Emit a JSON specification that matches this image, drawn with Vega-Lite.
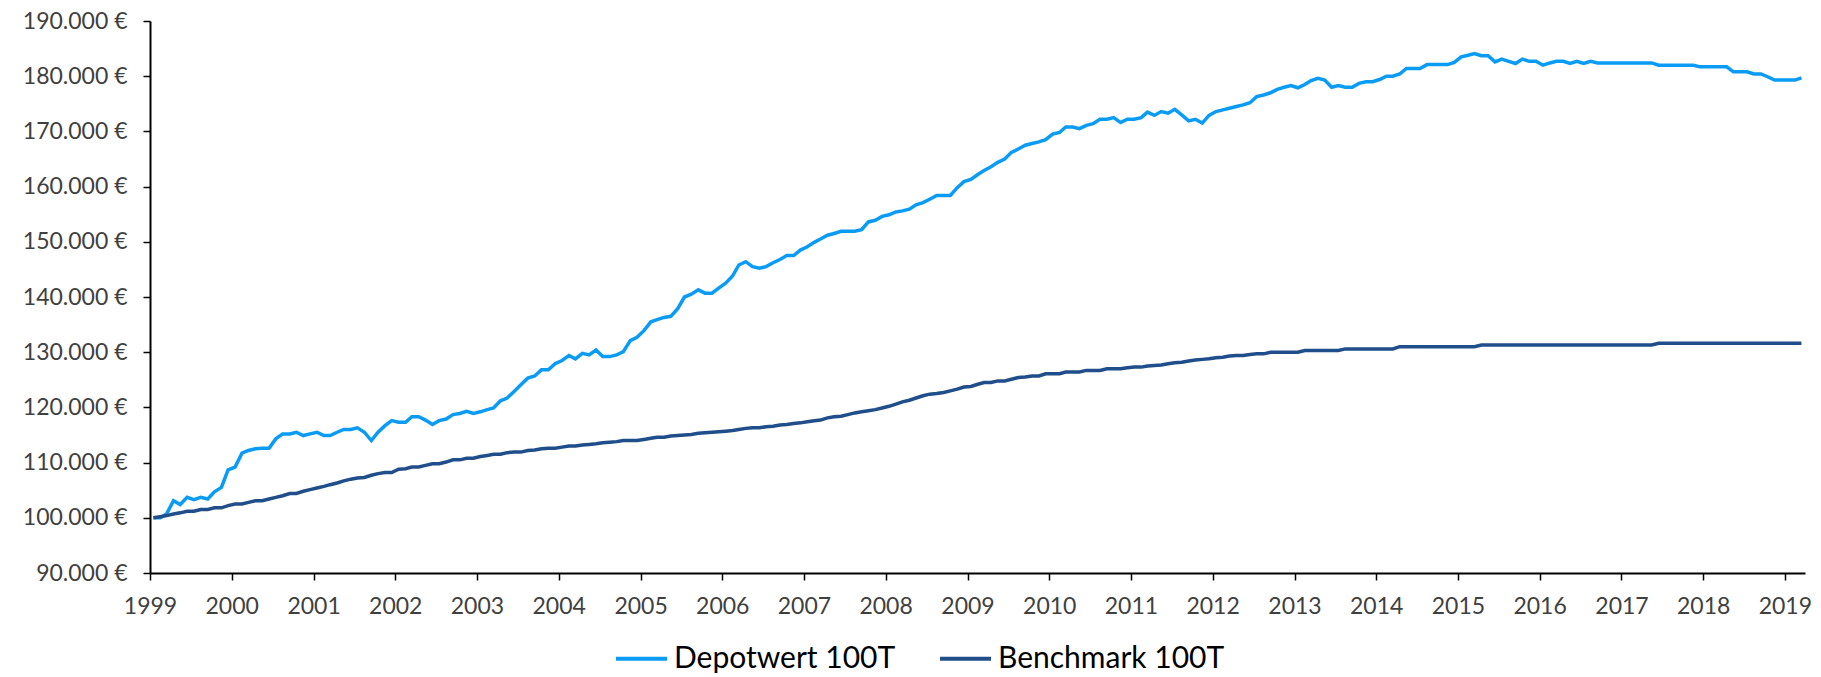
{
  "$schema": "https://vega.github.io/schema/vega-lite/v6.json",
  "width": 1655,
  "height": 552,
  "autosize": {"type": "none"},
  "padding": {"left": 150, "top": 21, "right": 16, "bottom": 104},
  "background": "white",
  "config": {"view": {"stroke": null}, "font": "Lato"},
  "data": {"values": [
{"date":"1999-01-16","Depotwert 100T":100000,"Benchmark 100T":100000},
{"date":"1999-02-16","Depotwert 100T":100000,"Benchmark 100T":100200},
{"date":"1999-03-16","Depotwert 100T":100700,"Benchmark 100T":100400},
{"date":"1999-04-16","Depotwert 100T":103100,"Benchmark 100T":100700},
{"date":"1999-05-16","Depotwert 100T":102400,"Benchmark 100T":100900},
{"date":"1999-06-16","Depotwert 100T":103700,"Benchmark 100T":101200},
{"date":"1999-07-16","Depotwert 100T":103300,"Benchmark 100T":101200},
{"date":"1999-08-16","Depotwert 100T":103700,"Benchmark 100T":101500},
{"date":"1999-09-16","Depotwert 100T":103400,"Benchmark 100T":101500},
{"date":"1999-10-16","Depotwert 100T":104700,"Benchmark 100T":101800},
{"date":"1999-11-16","Depotwert 100T":105500,"Benchmark 100T":101800},
{"date":"1999-12-16","Depotwert 100T":108700,"Benchmark 100T":102200},
{"date":"2000-01-16","Depotwert 100T":109200,"Benchmark 100T":102500},
{"date":"2000-02-16","Depotwert 100T":111700,"Benchmark 100T":102500},
{"date":"2000-03-16","Depotwert 100T":112200,"Benchmark 100T":102800},
{"date":"2000-04-16","Depotwert 100T":112500,"Benchmark 100T":103100},
{"date":"2000-05-16","Depotwert 100T":112600,"Benchmark 100T":103100},
{"date":"2000-06-16","Depotwert 100T":112600,"Benchmark 100T":103400},
{"date":"2000-07-16","Depotwert 100T":114300,"Benchmark 100T":103700},
{"date":"2000-08-16","Depotwert 100T":115200,"Benchmark 100T":104000},
{"date":"2000-09-16","Depotwert 100T":115200,"Benchmark 100T":104400},
{"date":"2000-10-16","Depotwert 100T":115500,"Benchmark 100T":104400},
{"date":"2000-11-16","Depotwert 100T":114900,"Benchmark 100T":104800},
{"date":"2000-12-16","Depotwert 100T":115200,"Benchmark 100T":105100},
{"date":"2001-01-16","Depotwert 100T":115500,"Benchmark 100T":105400},
{"date":"2001-02-16","Depotwert 100T":114900,"Benchmark 100T":105700},
{"date":"2001-03-16","Depotwert 100T":114900,"Benchmark 100T":106000},
{"date":"2001-04-16","Depotwert 100T":115500,"Benchmark 100T":106300},
{"date":"2001-05-16","Depotwert 100T":116000,"Benchmark 100T":106700},
{"date":"2001-06-16","Depotwert 100T":116000,"Benchmark 100T":107000},
{"date":"2001-07-16","Depotwert 100T":116300,"Benchmark 100T":107200},
{"date":"2001-08-16","Depotwert 100T":115500,"Benchmark 100T":107300},
{"date":"2001-09-16","Depotwert 100T":114000,"Benchmark 100T":107700},
{"date":"2001-10-16","Depotwert 100T":115500,"Benchmark 100T":108000},
{"date":"2001-11-16","Depotwert 100T":116700,"Benchmark 100T":108200},
{"date":"2001-12-16","Depotwert 100T":117600,"Benchmark 100T":108200},
{"date":"2002-01-16","Depotwert 100T":117300,"Benchmark 100T":108800},
{"date":"2002-02-16","Depotwert 100T":117300,"Benchmark 100T":108900},
{"date":"2002-03-16","Depotwert 100T":118300,"Benchmark 100T":109200},
{"date":"2002-04-16","Depotwert 100T":118300,"Benchmark 100T":109200},
{"date":"2002-05-16","Depotwert 100T":117700,"Benchmark 100T":109500},
{"date":"2002-06-16","Depotwert 100T":116900,"Benchmark 100T":109800},
{"date":"2002-07-16","Depotwert 100T":117600,"Benchmark 100T":109800},
{"date":"2002-08-16","Depotwert 100T":117900,"Benchmark 100T":110100},
{"date":"2002-09-16","Depotwert 100T":118700,"Benchmark 100T":110500},
{"date":"2002-10-16","Depotwert 100T":118900,"Benchmark 100T":110500},
{"date":"2002-11-16","Depotwert 100T":119300,"Benchmark 100T":110800},
{"date":"2002-12-16","Depotwert 100T":118900,"Benchmark 100T":110800},
{"date":"2003-01-16","Depotwert 100T":119200,"Benchmark 100T":111100},
{"date":"2003-02-16","Depotwert 100T":119600,"Benchmark 100T":111300},
{"date":"2003-03-16","Depotwert 100T":119900,"Benchmark 100T":111500},
{"date":"2003-04-16","Depotwert 100T":121200,"Benchmark 100T":111500},
{"date":"2003-05-16","Depotwert 100T":121700,"Benchmark 100T":111800},
{"date":"2003-06-16","Depotwert 100T":122900,"Benchmark 100T":111900},
{"date":"2003-07-16","Depotwert 100T":124100,"Benchmark 100T":111900},
{"date":"2003-08-16","Depotwert 100T":125300,"Benchmark 100T":112200},
{"date":"2003-09-16","Depotwert 100T":125700,"Benchmark 100T":112300},
{"date":"2003-10-16","Depotwert 100T":126800,"Benchmark 100T":112500},
{"date":"2003-11-16","Depotwert 100T":126800,"Benchmark 100T":112600},
{"date":"2003-12-16","Depotwert 100T":127900,"Benchmark 100T":112600},
{"date":"2004-01-16","Depotwert 100T":128500,"Benchmark 100T":112800},
{"date":"2004-02-16","Depotwert 100T":129400,"Benchmark 100T":113000},
{"date":"2004-03-16","Depotwert 100T":128800,"Benchmark 100T":113000},
{"date":"2004-04-16","Depotwert 100T":129800,"Benchmark 100T":113200},
{"date":"2004-05-16","Depotwert 100T":129500,"Benchmark 100T":113300},
{"date":"2004-06-16","Depotwert 100T":130400,"Benchmark 100T":113400},
{"date":"2004-07-16","Depotwert 100T":129200,"Benchmark 100T":113600},
{"date":"2004-08-16","Depotwert 100T":129200,"Benchmark 100T":113700},
{"date":"2004-09-16","Depotwert 100T":129500,"Benchmark 100T":113800},
{"date":"2004-10-16","Depotwert 100T":130100,"Benchmark 100T":114000},
{"date":"2004-11-16","Depotwert 100T":132100,"Benchmark 100T":114000},
{"date":"2004-12-16","Depotwert 100T":132700,"Benchmark 100T":114000},
{"date":"2005-01-16","Depotwert 100T":133900,"Benchmark 100T":114200},
{"date":"2005-02-16","Depotwert 100T":135500,"Benchmark 100T":114400},
{"date":"2005-03-16","Depotwert 100T":135900,"Benchmark 100T":114600},
{"date":"2005-04-16","Depotwert 100T":136300,"Benchmark 100T":114600},
{"date":"2005-05-16","Depotwert 100T":136500,"Benchmark 100T":114800},
{"date":"2005-06-16","Depotwert 100T":137900,"Benchmark 100T":114900},
{"date":"2005-07-16","Depotwert 100T":140000,"Benchmark 100T":115000},
{"date":"2005-08-16","Depotwert 100T":140500,"Benchmark 100T":115100},
{"date":"2005-09-16","Depotwert 100T":141300,"Benchmark 100T":115300},
{"date":"2005-10-16","Depotwert 100T":140700,"Benchmark 100T":115400},
{"date":"2005-11-16","Depotwert 100T":140700,"Benchmark 100T":115500},
{"date":"2005-12-16","Depotwert 100T":141600,"Benchmark 100T":115600},
{"date":"2006-01-16","Depotwert 100T":142500,"Benchmark 100T":115700},
{"date":"2006-02-16","Depotwert 100T":143800,"Benchmark 100T":115800},
{"date":"2006-03-16","Depotwert 100T":145800,"Benchmark 100T":116000},
{"date":"2006-04-16","Depotwert 100T":146400,"Benchmark 100T":116200},
{"date":"2006-05-16","Depotwert 100T":145500,"Benchmark 100T":116300},
{"date":"2006-06-16","Depotwert 100T":145200,"Benchmark 100T":116300},
{"date":"2006-07-16","Depotwert 100T":145500,"Benchmark 100T":116500},
{"date":"2006-08-16","Depotwert 100T":146200,"Benchmark 100T":116600},
{"date":"2006-09-16","Depotwert 100T":146800,"Benchmark 100T":116800},
{"date":"2006-10-16","Depotwert 100T":147500,"Benchmark 100T":116900},
{"date":"2006-11-16","Depotwert 100T":147500,"Benchmark 100T":117100},
{"date":"2006-12-16","Depotwert 100T":148500,"Benchmark 100T":117200},
{"date":"2007-01-16","Depotwert 100T":149100,"Benchmark 100T":117400},
{"date":"2007-02-16","Depotwert 100T":149900,"Benchmark 100T":117600},
{"date":"2007-03-16","Depotwert 100T":150500,"Benchmark 100T":117700},
{"date":"2007-04-16","Depotwert 100T":151200,"Benchmark 100T":118100},
{"date":"2007-05-16","Depotwert 100T":151500,"Benchmark 100T":118300},
{"date":"2007-06-16","Depotwert 100T":151900,"Benchmark 100T":118400},
{"date":"2007-07-16","Depotwert 100T":151900,"Benchmark 100T":118700},
{"date":"2007-08-16","Depotwert 100T":151900,"Benchmark 100T":119000},
{"date":"2007-09-16","Depotwert 100T":152200,"Benchmark 100T":119200},
{"date":"2007-10-16","Depotwert 100T":153600,"Benchmark 100T":119400},
{"date":"2007-11-16","Depotwert 100T":153900,"Benchmark 100T":119600},
{"date":"2007-12-16","Depotwert 100T":154600,"Benchmark 100T":119900},
{"date":"2008-01-16","Depotwert 100T":154900,"Benchmark 100T":120200},
{"date":"2008-02-16","Depotwert 100T":155400,"Benchmark 100T":120600},
{"date":"2008-03-16","Depotwert 100T":155600,"Benchmark 100T":121000},
{"date":"2008-04-16","Depotwert 100T":155900,"Benchmark 100T":121300},
{"date":"2008-05-16","Depotwert 100T":156700,"Benchmark 100T":121700},
{"date":"2008-06-16","Depotwert 100T":157100,"Benchmark 100T":122100},
{"date":"2008-07-16","Depotwert 100T":157700,"Benchmark 100T":122400},
{"date":"2008-08-16","Depotwert 100T":158400,"Benchmark 100T":122500},
{"date":"2008-09-16","Depotwert 100T":158400,"Benchmark 100T":122700},
{"date":"2008-10-16","Depotwert 100T":158400,"Benchmark 100T":123000},
{"date":"2008-11-16","Depotwert 100T":159800,"Benchmark 100T":123300},
{"date":"2008-12-16","Depotwert 100T":160900,"Benchmark 100T":123700},
{"date":"2009-01-16","Depotwert 100T":161300,"Benchmark 100T":123800},
{"date":"2009-02-16","Depotwert 100T":162200,"Benchmark 100T":124200},
{"date":"2009-03-16","Depotwert 100T":162900,"Benchmark 100T":124500},
{"date":"2009-04-16","Depotwert 100T":163600,"Benchmark 100T":124500},
{"date":"2009-05-16","Depotwert 100T":164400,"Benchmark 100T":124800},
{"date":"2009-06-16","Depotwert 100T":165000,"Benchmark 100T":124800},
{"date":"2009-07-16","Depotwert 100T":166200,"Benchmark 100T":125100},
{"date":"2009-08-16","Depotwert 100T":166800,"Benchmark 100T":125400},
{"date":"2009-09-16","Depotwert 100T":167500,"Benchmark 100T":125500},
{"date":"2009-10-16","Depotwert 100T":167800,"Benchmark 100T":125700},
{"date":"2009-11-16","Depotwert 100T":168100,"Benchmark 100T":125700},
{"date":"2009-12-16","Depotwert 100T":168500,"Benchmark 100T":126100},
{"date":"2010-01-16","Depotwert 100T":169500,"Benchmark 100T":126100},
{"date":"2010-02-16","Depotwert 100T":169800,"Benchmark 100T":126100},
{"date":"2010-03-16","Depotwert 100T":170800,"Benchmark 100T":126400},
{"date":"2010-04-16","Depotwert 100T":170800,"Benchmark 100T":126400},
{"date":"2010-05-16","Depotwert 100T":170500,"Benchmark 100T":126400},
{"date":"2010-06-16","Depotwert 100T":171100,"Benchmark 100T":126700},
{"date":"2010-07-16","Depotwert 100T":171400,"Benchmark 100T":126700},
{"date":"2010-08-16","Depotwert 100T":172200,"Benchmark 100T":126700},
{"date":"2010-09-16","Depotwert 100T":172200,"Benchmark 100T":127000},
{"date":"2010-10-16","Depotwert 100T":172500,"Benchmark 100T":127000},
{"date":"2010-11-16","Depotwert 100T":171600,"Benchmark 100T":127000},
{"date":"2010-12-16","Depotwert 100T":172200,"Benchmark 100T":127200},
{"date":"2011-01-16","Depotwert 100T":172200,"Benchmark 100T":127300},
{"date":"2011-02-16","Depotwert 100T":172500,"Benchmark 100T":127300},
{"date":"2011-03-16","Depotwert 100T":173500,"Benchmark 100T":127500},
{"date":"2011-04-16","Depotwert 100T":172900,"Benchmark 100T":127600},
{"date":"2011-05-16","Depotwert 100T":173600,"Benchmark 100T":127700},
{"date":"2011-06-16","Depotwert 100T":173300,"Benchmark 100T":127900},
{"date":"2011-07-16","Depotwert 100T":174000,"Benchmark 100T":128100},
{"date":"2011-08-16","Depotwert 100T":173000,"Benchmark 100T":128200},
{"date":"2011-09-16","Depotwert 100T":171900,"Benchmark 100T":128400},
{"date":"2011-10-16","Depotwert 100T":172200,"Benchmark 100T":128600},
{"date":"2011-11-16","Depotwert 100T":171500,"Benchmark 100T":128700},
{"date":"2011-12-16","Depotwert 100T":172900,"Benchmark 100T":128800},
{"date":"2012-01-16","Depotwert 100T":173600,"Benchmark 100T":129000},
{"date":"2012-02-16","Depotwert 100T":173900,"Benchmark 100T":129100},
{"date":"2012-03-16","Depotwert 100T":174200,"Benchmark 100T":129300},
{"date":"2012-04-16","Depotwert 100T":174500,"Benchmark 100T":129400},
{"date":"2012-05-16","Depotwert 100T":174800,"Benchmark 100T":129400},
{"date":"2012-06-16","Depotwert 100T":175200,"Benchmark 100T":129600},
{"date":"2012-07-16","Depotwert 100T":176300,"Benchmark 100T":129700},
{"date":"2012-08-16","Depotwert 100T":176600,"Benchmark 100T":129700},
{"date":"2012-09-16","Depotwert 100T":177000,"Benchmark 100T":130000},
{"date":"2012-10-16","Depotwert 100T":177600,"Benchmark 100T":130000},
{"date":"2012-11-16","Depotwert 100T":178000,"Benchmark 100T":130000},
{"date":"2012-12-16","Depotwert 100T":178300,"Benchmark 100T":130000},
{"date":"2013-01-16","Depotwert 100T":177900,"Benchmark 100T":130000},
{"date":"2013-02-16","Depotwert 100T":178500,"Benchmark 100T":130300},
{"date":"2013-03-16","Depotwert 100T":179200,"Benchmark 100T":130300},
{"date":"2013-04-16","Depotwert 100T":179600,"Benchmark 100T":130300},
{"date":"2013-05-16","Depotwert 100T":179300,"Benchmark 100T":130300},
{"date":"2013-06-16","Depotwert 100T":178000,"Benchmark 100T":130300},
{"date":"2013-07-16","Depotwert 100T":178300,"Benchmark 100T":130300},
{"date":"2013-08-16","Depotwert 100T":178000,"Benchmark 100T":130600},
{"date":"2013-09-16","Depotwert 100T":178000,"Benchmark 100T":130600},
{"date":"2013-10-16","Depotwert 100T":178700,"Benchmark 100T":130600},
{"date":"2013-11-16","Depotwert 100T":179000,"Benchmark 100T":130600},
{"date":"2013-12-16","Depotwert 100T":179000,"Benchmark 100T":130600},
{"date":"2014-01-16","Depotwert 100T":179400,"Benchmark 100T":130600},
{"date":"2014-02-16","Depotwert 100T":180000,"Benchmark 100T":130600},
{"date":"2014-03-16","Depotwert 100T":180000,"Benchmark 100T":130600},
{"date":"2014-04-16","Depotwert 100T":180400,"Benchmark 100T":131000},
{"date":"2014-05-16","Depotwert 100T":181400,"Benchmark 100T":131000},
{"date":"2014-06-16","Depotwert 100T":181400,"Benchmark 100T":131000},
{"date":"2014-07-16","Depotwert 100T":181400,"Benchmark 100T":131000},
{"date":"2014-08-16","Depotwert 100T":182100,"Benchmark 100T":131000},
{"date":"2014-09-16","Depotwert 100T":182100,"Benchmark 100T":131000},
{"date":"2014-10-16","Depotwert 100T":182100,"Benchmark 100T":131000},
{"date":"2014-11-16","Depotwert 100T":182100,"Benchmark 100T":131000},
{"date":"2014-12-16","Depotwert 100T":182500,"Benchmark 100T":131000},
{"date":"2015-01-16","Depotwert 100T":183500,"Benchmark 100T":131000},
{"date":"2015-02-16","Depotwert 100T":183800,"Benchmark 100T":131000},
{"date":"2015-03-16","Depotwert 100T":184100,"Benchmark 100T":131000},
{"date":"2015-04-16","Depotwert 100T":183700,"Benchmark 100T":131300},
{"date":"2015-05-16","Depotwert 100T":183700,"Benchmark 100T":131300},
{"date":"2015-06-16","Depotwert 100T":182600,"Benchmark 100T":131300},
{"date":"2015-07-16","Depotwert 100T":183100,"Benchmark 100T":131300},
{"date":"2015-08-16","Depotwert 100T":182700,"Benchmark 100T":131300},
{"date":"2015-09-16","Depotwert 100T":182300,"Benchmark 100T":131300},
{"date":"2015-10-16","Depotwert 100T":183100,"Benchmark 100T":131300},
{"date":"2015-11-16","Depotwert 100T":182700,"Benchmark 100T":131300},
{"date":"2015-12-16","Depotwert 100T":182700,"Benchmark 100T":131300},
{"date":"2016-01-16","Depotwert 100T":182000,"Benchmark 100T":131300},
{"date":"2016-02-16","Depotwert 100T":182400,"Benchmark 100T":131300},
{"date":"2016-03-16","Depotwert 100T":182700,"Benchmark 100T":131300},
{"date":"2016-04-16","Depotwert 100T":182700,"Benchmark 100T":131300},
{"date":"2016-05-16","Depotwert 100T":182300,"Benchmark 100T":131300},
{"date":"2016-06-16","Depotwert 100T":182700,"Benchmark 100T":131300},
{"date":"2016-07-16","Depotwert 100T":182300,"Benchmark 100T":131300},
{"date":"2016-08-16","Depotwert 100T":182700,"Benchmark 100T":131300},
{"date":"2016-09-16","Depotwert 100T":182400,"Benchmark 100T":131300},
{"date":"2016-10-16","Depotwert 100T":182400,"Benchmark 100T":131300},
{"date":"2016-11-16","Depotwert 100T":182400,"Benchmark 100T":131300},
{"date":"2016-12-16","Depotwert 100T":182400,"Benchmark 100T":131300},
{"date":"2017-01-16","Depotwert 100T":182400,"Benchmark 100T":131300},
{"date":"2017-02-16","Depotwert 100T":182400,"Benchmark 100T":131300},
{"date":"2017-03-16","Depotwert 100T":182400,"Benchmark 100T":131300},
{"date":"2017-04-16","Depotwert 100T":182400,"Benchmark 100T":131300},
{"date":"2017-05-16","Depotwert 100T":182400,"Benchmark 100T":131300},
{"date":"2017-06-16","Depotwert 100T":182000,"Benchmark 100T":131600},
{"date":"2017-07-16","Depotwert 100T":182000,"Benchmark 100T":131600},
{"date":"2017-08-16","Depotwert 100T":182000,"Benchmark 100T":131600},
{"date":"2017-09-16","Depotwert 100T":182000,"Benchmark 100T":131600},
{"date":"2017-10-16","Depotwert 100T":182000,"Benchmark 100T":131600},
{"date":"2017-11-16","Depotwert 100T":182000,"Benchmark 100T":131600},
{"date":"2017-12-16","Depotwert 100T":181700,"Benchmark 100T":131600},
{"date":"2018-01-16","Depotwert 100T":181700,"Benchmark 100T":131600},
{"date":"2018-02-16","Depotwert 100T":181700,"Benchmark 100T":131600},
{"date":"2018-03-16","Depotwert 100T":181700,"Benchmark 100T":131600},
{"date":"2018-04-16","Depotwert 100T":181700,"Benchmark 100T":131600},
{"date":"2018-05-16","Depotwert 100T":180800,"Benchmark 100T":131600},
{"date":"2018-06-16","Depotwert 100T":180800,"Benchmark 100T":131600},
{"date":"2018-07-16","Depotwert 100T":180800,"Benchmark 100T":131600},
{"date":"2018-08-16","Depotwert 100T":180400,"Benchmark 100T":131600},
{"date":"2018-09-16","Depotwert 100T":180400,"Benchmark 100T":131600},
{"date":"2018-10-16","Depotwert 100T":179900,"Benchmark 100T":131600},
{"date":"2018-11-16","Depotwert 100T":179300,"Benchmark 100T":131600},
{"date":"2018-12-16","Depotwert 100T":179300,"Benchmark 100T":131600},
{"date":"2019-01-16","Depotwert 100T":179300,"Benchmark 100T":131600},
{"date":"2019-02-16","Depotwert 100T":179300,"Benchmark 100T":131600},
{"date":"2019-03-16","Depotwert 100T":179700,"Benchmark 100T":131600}
  ]},
  "transform": [{"fold": ["Depotwert 100T", "Benchmark 100T"], "as": ["Serie", "Wert"]}],
  "mark": {"type": "line", "strokeWidth": 3.5, "interpolate": "linear"},
  "encoding": {
    "x": {
      "field": "date", "type": "temporal",
      "scale": {"type": "utc", "nice": false, "domain": [{"year": 1999, "month": 1, "date": 1, "utc": true}, {"year": 2019, "month": 4, "date": 1, "utc": true}]},
      "axis": {"title": null, "format": "%Y", "formatType": "utc", "tickCount": {"interval": "year", "step": 1}, "grid": false,
        "domainColor": "#000000", "domainWidth": 2, "tickColor": "#000000", "tickWidth": 1.5, "tickSize": 7,
        "labelFont": "Lato", "labelFontSize": 23, "labelColor": "#404040", "labelPadding": 15, "labelOverlap": false, "labelFlush": false}
    },
    "y": {
      "field": "Wert", "type": "quantitative",
      "scale": {"domain": [90000, 190000], "nice": false, "zero": false},
      "axis": {"title": null, "values": [90000, 100000, 110000, 120000, 130000, 140000, 150000, 160000, 170000, 180000, 190000],
        "labelExpr": "replace(format(datum.value, ','), ',', '.') + ' €'", "grid": false,
        "domainColor": "#000000", "domainWidth": 2, "tickColor": "#000000", "tickWidth": 1.5, "tickSize": 7,
        "labelFont": "Lato", "labelFontSize": 23, "labelColor": "#404040", "labelPadding": 16}
    },
    "color": {
      "field": "Serie", "type": "nominal",
      "scale": {"domain": ["Depotwert 100T", "Benchmark 100T"], "range": ["#0A9CF5", "#1F4E8A"]},
      "legend": {"title": null, "orient": "none", "legendX": 464, "legendY": 610, "direction": "horizontal",
        "symbolType": "stroke", "symbolSize": 2601, "symbolStrokeWidth": 4, "labelFont": "Lato", "labelFontSize": 30,
        "labelColor": "#000000", "labelOffset": 5, "columnPadding": 36, "padding": 0, "labelLimit": 400}
    }
  }
}
